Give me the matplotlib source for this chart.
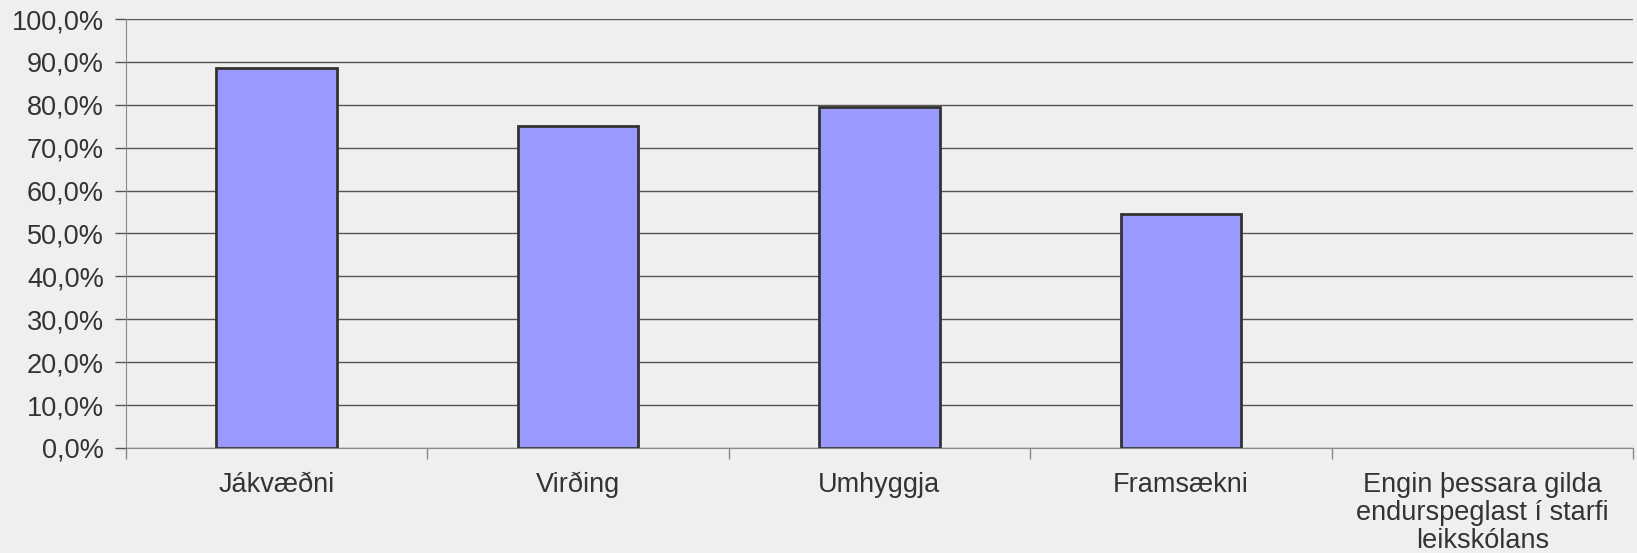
import matplotlib.pyplot as plt
import numpy as np
from matplotlib.ticker import FuncFormatter, FixedLocator

categories = [
    "Jákvæðni",
    "Virðing",
    "Umhyggja",
    "Framsækni",
    "Engin þessara gilda\nendurspeglast í starfi\nleikskólans",
]
values = [88.6, 75.0, 79.6, 54.5, 0.0]
y_ticks = list(range(0, 101, 10))

plt.rcParams["font.family"] = ["Liberation Sans", "DejaVu Sans"]

bg = "#efefef"
fig = plt.figure(figsize=(16.37, 5.53), dpi=100, facecolor=bg)
ax = fig.add_axes([0.077, 0.19, 0.9205, 0.7756])
ax.set_facecolor(bg)

x = np.arange(len(categories))
# no outline for empty bars
edges = ["#333333" if v > 0 else "none" for v in values]
ax.bar(x, values, width=0.4, color="#9999ff", edgecolor=edges,
       linewidth=2, zorder=3)

ax.set_xlim(-0.5, len(categories) - 0.5)
ax.set_ylim(0, 100)
ax.set_yticks(y_ticks)
ax.yaxis.set_major_formatter(FuncFormatter(lambda v, p: f"{v:.1f}%".replace(".", ",")))
ax.grid(axis="y", color="#555555", linewidth=1, zorder=1)

ax.set_xticks(x)
ax.set_xticklabels(categories, linespacing=1.1)
ax.xaxis.set_minor_locator(FixedLocator(np.arange(-0.5, len(categories), 1.0)))
ax.tick_params(axis="x", which="major", length=0, pad=17, labelsize=19.5,
               labelcolor="#333333")
ax.tick_params(axis="x", which="minor", length=8, color="#888888", width=1)
ax.tick_params(axis="y", length=8, color="#555555", width=1, labelsize=19.5,
               labelcolor="#333333", pad=8)

for s in ["top", "right"]:
    ax.spines[s].set_visible(False)
ax.spines["left"].set_color("#888888")
ax.spines["bottom"].set_color("#888888")
ax.spines["bottom"].set_zorder(4)

plt.savefig("out.png", dpi=100, facecolor=bg)
plt.close()
